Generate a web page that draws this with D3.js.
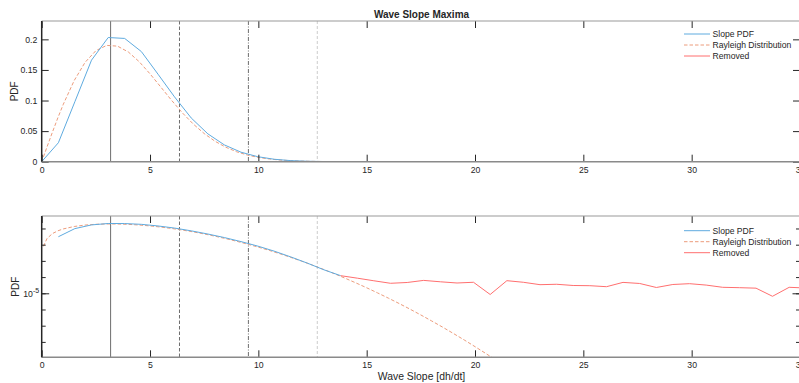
<!DOCTYPE html>
<html>
<head>
<meta charset="utf-8">
<script src="https://cdn.jsdelivr.net/npm/d3@7"></script>
<style>
  body { margin: 0; background: #fff; }
  text { font-family: "Liberation Sans", Arial, sans-serif; fill: #262626; }
</style>
</head>
<body>
<svg id="chart"></svg>
<script>
// ---- data ----
const slopeX   = [0, 0.77, 1.53, 2.30, 3.07, 3.83, 4.60, 5.37, 6.13, 6.90, 7.67, 8.43, 9.20, 9.97, 10.73, 11.50, 12.27, 13.03, 13.80];
const slopePdf = [0, 0.031, 0.098, 0.166, 0.203, 0.2015, 0.180, 0.143, 0.106, 0.0715, 0.0455, 0.0275, 0.0155, 0.0082, 0.0040, 0.00175, 0.00072, 0.00028, 0.000122];

const rayX   = [0.08, 0.25, 0.5, 0.75, 1.0, 1.5, 2.0, 2.5, 3.0, 3.5, 4.0, 4.5, 5.0, 5.5, 6.0, 6.5, 7.0, 7.5, 8.0, 8.5, 9.0, 9.5, 10.0,
                10.5, 11.0, 11.5, 12.0, 12.5, 13.0, 13.5, 14.0, 14.5, 15.0, 15.5, 16.0, 16.5, 17.0, 17.5, 18.0, 18.5, 19.0, 19.5, 20.0, 20.5, 21.0];
const rayPdf = [0.0079, 0.0246, 0.0488, 0.0721, 0.0941, 0.1327, 0.1623, 0.1815, 0.1901, 0.1889, 0.1793, 0.1635, 0.1436, 0.1219, 0.1001,
                0.0796, 0.0614, 0.0460, 0.0334, 0.0236, 0.0162, 0.0108, 0.00704, 0.00445, 0.00274, 0.00164, 0.00096, 0.000546, 0.000302,
                0.000163, 8.56e-5, 4.38e-5, 2.19e-5, 1.06e-5, 5.03e-6, 2.33e-6, 1.05e-6, 4.59e-7, 1.96e-7, 8.2e-8, 3.32e-8, 1.32e-8,
                5.1e-9, 1.92e-9, 7.0e-10];

const removedX   = [13.80, 14.57, 15.33, 16.10, 16.87, 17.63, 18.40, 19.17, 19.93, 20.70, 21.47, 22.23, 23.00, 23.77, 24.53, 25.30,
                    26.07, 26.83, 27.60, 28.37, 29.13, 29.90, 30.67, 31.43, 32.20, 32.97, 33.73, 34.50, 35.27];
const removedPdf = [1.22e-4, 8.55e-5, 5.92e-5, 4.14e-5, 4.64e-5, 6.25e-5, 5.13e-5, 4.32e-5, 4.78e-5, 8.43e-6, 6.0e-5, 4.78e-5, 3.40e-5,
                    3.60e-5, 3.03e-5, 2.94e-5, 2.55e-5, 4.71e-5, 4.03e-5, 2.28e-5, 3.49e-5, 3.92e-5, 3.21e-5, 2.34e-5, 2.22e-5, 2.07e-5,
                    6.53e-6, 2.34e-5, 2.12e-5];

const sigmaLines = [3.18, 6.36, 9.54, 12.72];
const xTicks = [0, 5, 10, 15, 20, 25, 30, 35];
const yTicksLin = [0, 0.05, 0.1, 0.15, 0.2];
const yTicksLog = [1e-8, 1e-7, 1e-6, 1e-5, 1e-4, 1e-3, 1e-2, 1e-1];
const legendNames = ['Slope PDF', 'Rayleigh Distribution', 'Removed'];

// ---- layout ----
const width = 799, height = 383;
const left = 41.7, right = 800;
const colors = { slope: '#5fabdf', ray: '#ec9c7c', removed: '#ff6f6f' };
const refStyles = [
    { stroke: '#6e6e6e', dash: null },
    { stroke: '#6e6e6e', dash: '3.5,2' },
    { stroke: '#6e6e6e', dash: '4,1.5,1,1.5' },
    { stroke: '#cccccc', dash: '3,2' }
];

const svg = d3.select('#chart')
    .attr('width', width)
    .attr('height', height);

const xScale = d3.scaleLinear().domain([0, 35]).range([left, right]);

function drawPanel(p) {
    const g = svg.append('g');
    const y = p.y;

    g.append('clipPath').attr('id', p.id)
        .append('rect')
        .attr('x', left).attr('y', p.top)
        .attr('width', right - left).attr('height', p.height);

    const plot = g.append('g').attr('clip-path', `url(#${p.id})`);

    // sigma reference lines
    plot.selectAll('.ref')
        .data(sigmaLines)
        .join('line')
        .attr('x1', d => xScale(d)).attr('x2', d => xScale(d))
        .attr('y1', p.top).attr('y2', p.top + p.height)
        .attr('stroke', (d, i) => refStyles[i].stroke)
        .attr('stroke-dasharray', (d, i) => refStyles[i].dash)
        .attr('stroke-width', 1);

    const line = d3.line()
        .defined(d => !p.log || d[1] > 0)
        .x(d => xScale(d[0]))
        .y(d => y(d[1]));

    plot.append('path')
        .datum(d3.zip(rayX, rayPdf))
        .attr('d', line)
        .attr('fill', 'none')
        .attr('stroke', colors.ray)
        .attr('stroke-dasharray', '3.5,2')
        .attr('stroke-width', 1);

    plot.append('path')
        .datum(d3.zip(slopeX, slopePdf))
        .attr('d', line)
        .attr('fill', 'none')
        .attr('stroke', colors.slope)
        .attr('stroke-width', 1);

    if (p.log) {
        plot.append('path')
            .datum(d3.zip(removedX, removedPdf))
            .attr('d', line)
            .attr('fill', 'none')
            .attr('stroke', colors.removed)
            .attr('stroke-width', 1);
    }

    // axes (ticks point inwards, MATLAB style)
    const bottom = p.top + p.height;
    const xb = g.append('g')
        .attr('transform', `translate(0,${bottom})`)
        .call(d3.axisBottom(xScale).tickValues(xTicks).tickSize(-7).tickSizeOuter(0).tickPadding(5));
    xb.selectAll('text').style('font-size', '8.7px');

    g.append('g')
        .attr('transform', `translate(0,${p.top})`)
        .call(d3.axisTop(xScale).tickValues(xTicks).tickSize(-7).tickSizeOuter(0).tickFormat(''));

    if (!p.log) {
        const yl = g.append('g')
            .attr('transform', `translate(${left},0)`)
            .call(d3.axisLeft(y).tickValues(yTicksLin).tickSize(-7).tickSizeOuter(0).tickPadding(4.4)
                .tickFormat(d => d3.format('~g')(d)));
        yl.selectAll('text').style('font-size', '8.7px');
        g.append('g')
            .attr('transform', `translate(${right},0)`)
            .call(d3.axisRight(y).tickValues(yTicksLin).tickSize(-7).tickSizeOuter(0).tickFormat(''));
    } else {
        g.append('g')
            .attr('transform', `translate(${left},0)`)
            .call(d3.axisLeft(y).tickValues(yTicksLog).tickSize(-4).tickSizeOuter(0).tickFormat(''));
        g.append('g')
            .attr('transform', `translate(${right},0)`)
            .call(d3.axisRight(y).tickValues(yTicksLog).tickSize(-4).tickSizeOuter(0).tickFormat(''));
        // major tick at 10^-5
        g.append('g')
            .attr('transform', `translate(${left},0)`)
            .call(d3.axisLeft(y).tickValues([1e-5]).tickSize(-7.5).tickSizeOuter(0).tickFormat(''));
        g.append('g')
            .attr('transform', `translate(${right},0)`)
            .call(d3.axisRight(y).tickValues([1e-5]).tickSize(-7.5).tickSizeOuter(0).tickFormat(''));
        const lab = g.append('text')
            .attr('x', left - 2.5)
            .attr('y', y(1e-5) + 4)
            .attr('text-anchor', 'end')
            .style('font-size', '8.7px');
        lab.append('tspan').text('10');
        lab.append('tspan').attr('dy', -4).style('font-size', '7px').text('-5');
    }

    g.selectAll('.domain').attr('stroke', 'none');
    g.selectAll('.tick line').attr('stroke', '#262626');

    // box
    g.append('line').attr('x1', left).attr('x2', right).attr('y1', p.top).attr('y2', p.top)
        .attr('stroke', '#9a9a9a').attr('stroke-width', 1.2);
    g.append('line').attr('x1', left).attr('x2', right).attr('y1', bottom).attr('y2', bottom)
        .attr('stroke', '#8a8a8a').attr('stroke-width', 1.4);
    g.append('line').attr('x1', left).attr('x2', left).attr('y1', p.top).attr('y2', bottom)
        .attr('stroke', '#262626').attr('stroke-width', 1.5);

    // y label
    g.append('text')
        .attr('transform', `translate(${p.ylabX},${p.top + p.height / 2}) rotate(-90)`)
        .attr('text-anchor', 'middle')
        .style('font-size', '10px')
        .text('PDF');

    // legend (no box)
    const leg = g.append('g')
        .attr('transform', `translate(684,${p.legendY})`);
    const items = leg.selectAll('.legend-item')
        .data(legendNames)
        .join('g')
        .attr('class', 'legend-item')
        .attr('transform', (d, i) => `translate(0,${i * 11})`);
    items.append('line')
        .attr('x1', 0).attr('x2', 26)
        .attr('stroke', (d, i) => [colors.slope, colors.ray, colors.removed][i])
        .attr('stroke-dasharray', (d, i) => i === 1 ? '3.5,2' : null)
        .attr('stroke-width', 1);
    items.append('text')
        .attr('x', 28.5)
        .attr('y', 3.2)
        .style('font-size', '8.6px')
        .text(d => d);
}

drawPanel({
    id: 'clipTop', top: 21, height: 140.7, log: false,
    y: d3.scaleLinear().domain([0, 0.23]).range([161.7, 21]),
    ylabX: 18, legendY: 34
});

drawPanel({
    id: 'clipBottom', top: 216, height: 141.3, log: true,
    y: d3.scaleLog().domain([1.12e-9, 0.589]).range([357.3, 216]),
    ylabX: 19.3, legendY: 230.7
});

// title and x label
svg.append('text')
    .attr('x', 421.5).attr('y', 17.6)
    .attr('text-anchor', 'middle')
    .style('font-size', '10px')
    .style('font-weight', 'bold')
    .text('Wave Slope Maxima');

svg.append('text')
    .attr('x', 421.5).attr('y', 380)
    .attr('text-anchor', 'middle')
    .style('font-size', '10.4px')
    .text('Wave Slope [dh/dt]');
</script>
</body>
</html>
